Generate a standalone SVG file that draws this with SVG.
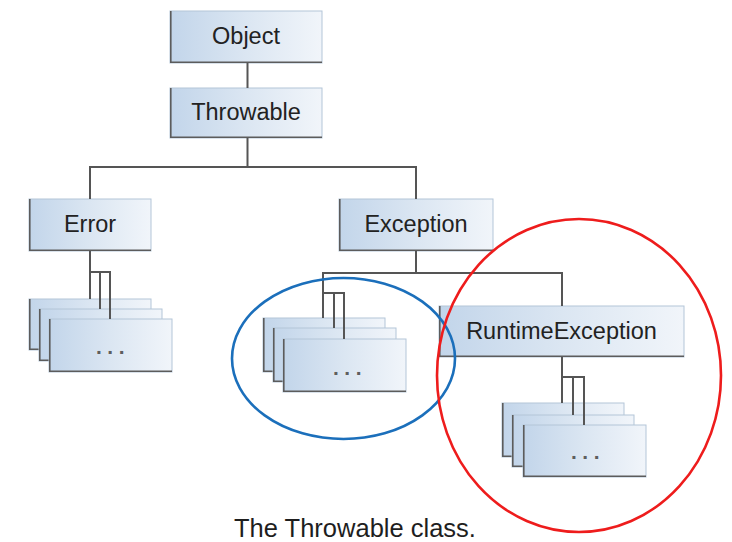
<svg xmlns="http://www.w3.org/2000/svg" width="732" height="542" viewBox="0 0 732 542">
<defs>
<linearGradient id="bg" x1="0" y1="0" x2="1" y2="0">
<stop offset="0" stop-color="#c2d5ea"/>
<stop offset="0.5" stop-color="#dbe6f2"/>
<stop offset="1" stop-color="#f1f5fa"/>
</linearGradient>
</defs>
<style>
.box{fill:url(#bg);stroke:#b3c5d8;stroke-width:1}
.edge{fill:none;stroke:#5c5c5c;stroke-width:1.6}
.lbl{font-family:"Liberation Sans",Arial,sans-serif;font-size:23.5px;fill:#222;text-anchor:middle}
.dots{font-family:"Liberation Sans",Arial,sans-serif;font-size:21px;font-weight:bold;fill:#5e5e5e;letter-spacing:5.5px}
.conn{fill:none;stroke:#555;stroke-width:2}
.cap{font-family:"Liberation Sans",Arial,sans-serif;font-size:25.5px;fill:#1e1e1e;text-anchor:middle}
</style>
<rect width="732" height="542" fill="#fff"/>

<g id="object">
<rect class="box" x="170" y="11" width="152" height="52"/>
<path class="edge" d="M170.8 11 V62.2 H322"/>
<text class="lbl" x="246" y="44">Object</text>
</g>
<g id="throwable">
<rect class="box" x="170" y="88" width="152" height="50"/>
<path class="edge" d="M170.8 88 V137.2 H322"/>
<text class="lbl" x="246" y="119.5">Throwable</text>
</g>
<g id="error">
<rect class="box" x="29" y="199" width="122" height="52"/>
<path class="edge" d="M29.8 199 V250.2 H151"/>
<text class="lbl" x="90" y="231.5">Error</text>
</g>
<g id="exception">
<rect class="box" x="339" y="199" width="154" height="52"/>
<path class="edge" d="M339.8 199 V250.2 H493"/>
<text class="lbl" x="416" y="231.5">Exception</text>
</g>
<g id="runtimeexception">
<rect class="box" x="439" y="306" width="245" height="51"/>
<path class="edge" d="M439.8 306 V356.2 H684"/>
<text class="lbl" x="561.5" y="338.5">RuntimeException</text>
</g>

<g id="error-subclasses">
<rect class="box" x="29" y="299" width="122" height="51"/>
<path class="edge" d="M29.8 299 V349.2 H151"/>
<rect class="box" x="39" y="309" width="123" height="52"/>
<path class="edge" d="M39.8 309 V360.2 H162"/>
<rect class="box" x="49" y="319" width="123" height="53"/>
<path class="edge" d="M49.8 319 V371.2 H172"/>
<text class="dots" x="96" y="353.5">...</text>
</g>
<g id="exception-subclasses">
<rect class="box" x="263" y="318" width="122" height="54"/>
<path class="edge" d="M263.8 318 V371.2 H385"/>
<rect class="box" x="273" y="328" width="123" height="54"/>
<path class="edge" d="M273.8 328 V381.2 H396"/>
<rect class="box" x="283" y="339" width="123" height="53"/>
<path class="edge" d="M283.8 339 V391.2 H406"/>
<text class="dots" x="333" y="374.5">...</text>
</g>
<g id="runtime-subclasses">
<rect class="box" x="502" y="403" width="122" height="54"/>
<path class="edge" d="M502.8 403 V456.2 H624"/>
<rect class="box" x="512" y="415" width="122" height="52"/>
<path class="edge" d="M512.8 415 V466.2 H634"/>
<rect class="box" x="523" y="425" width="123" height="52"/>
<path class="edge" d="M523.8 425 V476.2 H646"/>
<text class="dots" x="571" y="458.5">...</text>
</g>

<g id="connectors">
<path class="conn" d="M247.5 63 V88"/>
<path class="conn" d="M247.5 138 V167"/>
<path class="conn" d="M90 199 V167 H416 V199"/>
<path class="conn" d="M90 251 V299"/>
<path class="conn" d="M90 272 H110 V319"/>
<path class="conn" d="M100 272 V309"/>
<path class="conn" d="M416 251 V273"/>
<path class="conn" d="M323 318 V273 H562 V306"/>
<path class="conn" d="M323 293 H344 V339"/>
<path class="conn" d="M334 293 V328"/>
<path class="conn" d="M562 357 V403"/>
<path class="conn" d="M562 377 H584 V425"/>
<path class="conn" d="M573 377 V415"/>
</g>

<g id="highlights">
<ellipse cx="343.5" cy="358.5" rx="111.5" ry="80.5" fill="none" stroke="#1b6fbb" stroke-width="2.6"/>
<ellipse cx="579" cy="375.5" rx="142" ry="156.5" fill="none" stroke="#ee1c1c" stroke-width="2.6"/>
</g>

<text class="cap" x="355" y="537">The Throwable class.</text>
</svg>
